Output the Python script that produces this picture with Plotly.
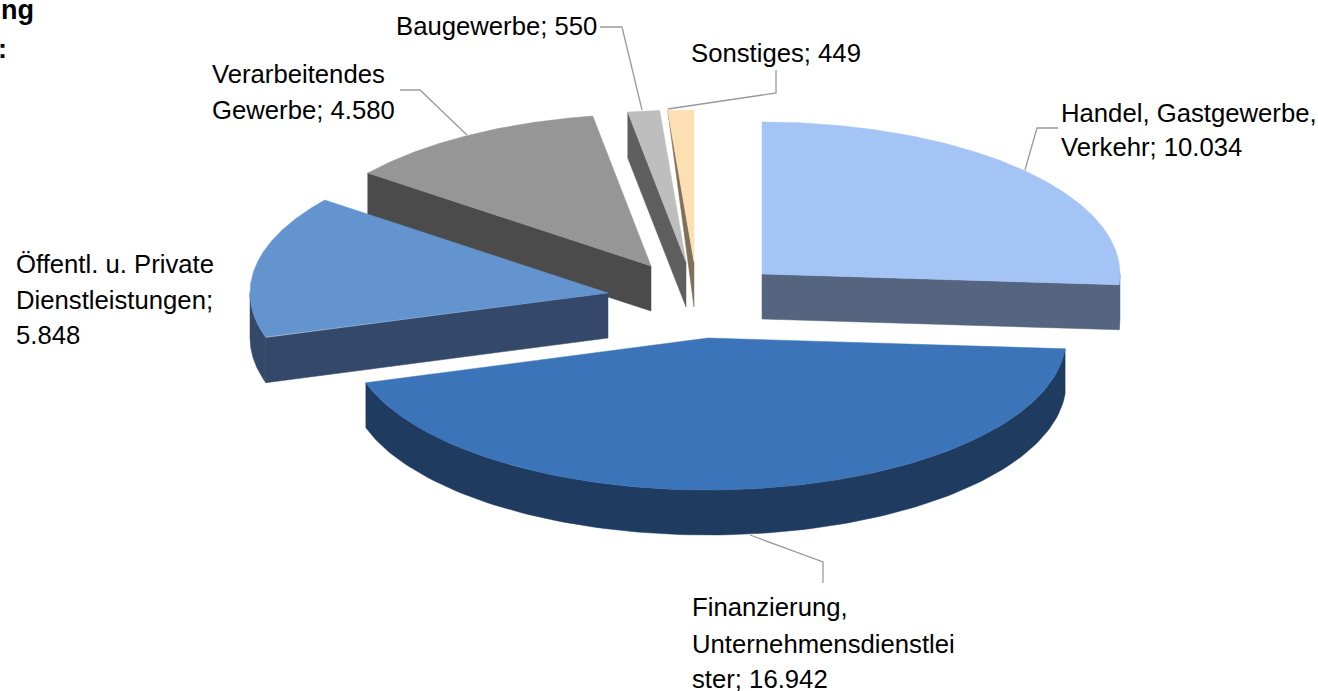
import numpy as np
import plotly.graph_objects as go

# ---- data ----
categories = ["Handel, Gastgewerbe, Verkehr", "Finanzierung, Unternehmensdienstleister",
              "Öffentl. u. Private Dienstleistungen", "Verarbeitendes Gewerbe",
              "Baugewerbe", "Sonstiges"]
values = [10034, 16942, 5848, 4580, 550, 449]

# ---- styling / layout ----
top_colors = ["#a4c4f6", "#3b74b8", "#6494ce", "#969696", "#bebebe", "#fddfb4"]
side_colors = ["#55657f", "#1f3b60", "#34496a", "#4b4b4b", "#5f5f5f", "#80705a"]
apex_x = [762, 708, 608, 651, 686, 694]
apex_y = [274, 338, 293, 266, 262, 262]
wall_outer_depth = [45, 45, 45, 46, 46, 0]
RX, RY, DEPTH = 358, 152, 45
draw_order = [3, 4, 5, 2, 0, 1]

label_lines = [
    ("Baugewerbe; 550", 395, 26), ("Sonstiges; 449", 690, 53),
    ("Verarbeitendes", 211, 74), ("Gewerbe; 4.580", 211, 110),
    ("Handel, Gastgewerbe,", 1060, 113), ("Verkehr; 10.034", 1060, 147),
    ("Öffentl. u. Private", 15, 264), ("Dienstleistungen;", 15, 300), ("5.848", 15, 335),
    ("Finanzierung,", 691, 607), ("Unternehmensdienstlei", 691, 644), ("ster; 16.942", 691, 679),
]
leaders = [
    ([1025, 1037, 1058], [170, 128, 128]),
    ([750, 823, 823], [535, 562, 583]),
    ([400, 420, 467], [90, 90, 135]),
    ([600, 622, 642], [27, 27, 110]),
    ([668, 776, 776], [109, 93, 70]),
]

total = sum(values)
edges = np.concatenate([[0], np.cumsum(values)]) / total * 360.0

fig = go.Figure()


def poly(xs, ys, color):
    fig.add_trace(go.Scatter(x=xs, y=ys, mode="lines", fill="toself", fillcolor=color,
                             line=dict(color=color, width=0.5), hoverinfo="skip", showlegend=False))


for i in draw_order:
    t0, t1 = edges[i], edges[i + 1]
    cx, cy = apex_x[i], apex_y[i]

    def pt(t):
        r = np.radians(t)
        return cx + RX * np.sin(r), cy - RY * np.cos(r)

    # radial wall
    wt = None
    if 180 < t0 < 360:
        wt = t0
    elif 0 < t1 < 180:
        wt = t1
    if wt is not None:
        ox, oy = pt(wt)
        poly([ox, cx, cx, ox, ox], [oy, cy, cy + DEPTH, oy + wall_outer_depth[i], oy],
             side_colors[i])
    # outer rim
    a, b = max(t0, 90), min(t1, 270)
    if b > a:
        ts = np.linspace(a, b, 120)
        xs, ys = pt(ts)
        poly(list(xs) + list(xs[::-1]) + [xs[0]],
             list(ys) + list((ys + DEPTH)[::-1]) + [ys[0]], side_colors[i])
    # top face
    ts = np.linspace(t0, t1, 200)
    xs, ys = pt(ts)
    poly([cx] + list(xs) + [cx], [cy] + list(ys) + [cy], top_colors[i])

for lx, ly in leaders:
    fig.add_trace(go.Scatter(x=lx, y=ly, mode="lines", line=dict(color="#9a9a9a", width=1.3),
                             hoverinfo="skip", showlegend=False))

font = dict(family="Liberation Sans, Arial, sans-serif", size=25.7, color="#000000")
annotations = [dict(x=x, y=y, text=t, showarrow=False, xanchor="left", yanchor="middle",
                    xref="x", yref="y", font=font, borderpad=0, align="left")
               for t, x, y in label_lines]
bold = dict(family="Liberation Sans, Arial, sans-serif", size=27, color="#000000")
annotations += [
    dict(x=35, y=10, text="<b>ng</b>", showarrow=False, xanchor="right", yanchor="middle",
         xref="x", yref="y", font=bold, borderpad=0),
    dict(x=8, y=49, text="<b>:</b>", showarrow=False, xanchor="right", yanchor="middle",
         xref="x", yref="y", font=bold, borderpad=0),
]

fig.update_layout(
    width=1318, height=691, margin=dict(l=0, r=0, t=0, b=0),
    paper_bgcolor="white", plot_bgcolor="white", showlegend=False,
    xaxis=dict(range=[0, 1318], visible=False, fixedrange=True),
    yaxis=dict(range=[691, 0], visible=False, fixedrange=True),
    annotations=annotations,
)
fig.write_html("out.html", config={"displayModeBar": False},
               post_script="document.body.style.margin='0';document.body.style.overflow='hidden';")
